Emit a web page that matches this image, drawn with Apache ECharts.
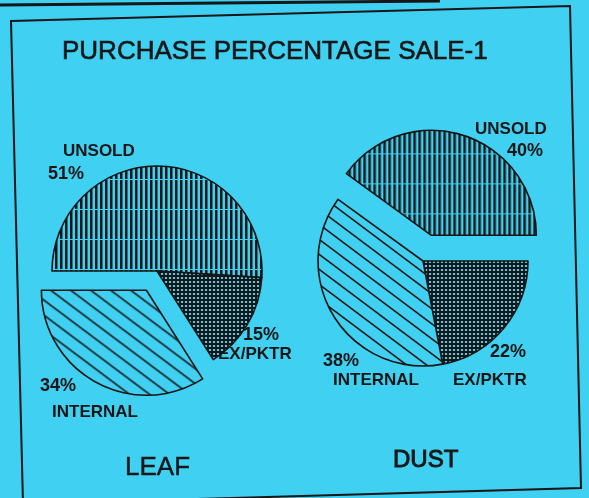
<!DOCTYPE html>
<html>
<head>
<meta charset="UTF-8">
<title>Purchase percentage sale-1</title>
<style>
  html, body { margin: 0; padding: 0; background: #3fd0f2; }
  #main { width: 589px; height: 498px; }
</style>
</head>
<body>
<div id="main"></div>
<script src="https://cdn.jsdelivr.net/npm/echarts@6/dist/echarts.min.js"></script>
<script>
// data
var titleText = 'PURCHASE PERCENTAGE SALE-1';
var groups = ['LEAF', 'DUST'];
var categories = ['UNSOLD', 'EX/PKTR', 'INTERNAL'];
var leafValues = [51, 15, 34];
var dustValues = [40, 22, 38];
// which slice is pulled out of each pie
var leafExploded = 'INTERNAL';
var dustExploded = 'UNSOLD';

var BG = '#3fd0f2';
var INK = '#161616';
var FONT = '"Liberation Sans", Arial, sans-serif';

// hatch fills, drawn on small canvases
function tile(w, h, draw) {
    var c = document.createElement('canvas');
    c.width = w; c.height = h;
    var ctx = c.getContext('2d');
    ctx.fillStyle = BG;
    ctx.fillRect(0, 0, w, h);
    ctx.fillStyle = INK;
    ctx.strokeStyle = INK;
    draw(ctx, w, h);
    return { image: c, repeat: 'repeat' };
}
var vertical = tile(5, 30, function (ctx, w, h) {
    ctx.fillRect(0, 0, 2.5, h);
    ctx.fillStyle = BG;
    ctx.fillRect(0, h - 1, w, 1);
});
var cross = tile(4, 4, function (ctx, w, h) {
    ctx.fillRect(0, 0, w, h);
    ctx.fillStyle = BG;
    ctx.fillRect(1, 1, 2, 2);
});
var diagonal = tile(20, 15, function (ctx, w, h) {
    ctx.lineWidth = 1.5;
    [-15, 0, 15].forEach(function (c) {
        ctx.beginPath();
        ctx.moveTo(-8, c - 6);
        ctx.lineTo(28, c + 21);
        ctx.stroke();
    });
});
var fills = [vertical, cross, diagonal];

function pieData(values, exploded) {
    return categories.map(function (name, i) {
        return {
            name: name,
            value: values[i],
            selected: name === exploded,
            itemStyle: { color: fills[i] },
            select: { itemStyle: { color: fills[i] } }
        };
    });
}

function pie(values, exploded, center, startAngle, offset) {
    return {
        type: 'pie',
        center: center,
        radius: 105,
        startAngle: startAngle,
        clockwise: true,
        selectedMode: 'multiple',
        selectedOffset: offset,
        silent: true,
        animation: false,
        label: { show: false },
        labelLine: { show: false },
        emphasis: { disabled: true },
        itemStyle: { borderColor: INK, borderWidth: 1.6 },
        select: { itemStyle: { borderColor: INK, borderWidth: 1.6 } },
        data: pieData(values, exploded)
    };
}

function text(str, x, y, size, bold, extra) {
    var st = {
        text: str,
        font: (bold ? 'bold ' : '') + size + 'px ' + FONT,
        fill: INK,
        verticalAlign: 'middle'
    };
    if (extra) { st.stroke = INK; st.lineWidth = extra; }
    return { type: 'text', x: x, y: y, silent: true, style: st };
}

// label places: [name x, name y, value x, value y]
var leafPlaces = [[63, 151, 48, 174], [218, 354, 243, 335], [52, 412, 40, 386]];
var dustPlaces = [[475, 129, 507, 151], [453, 380, 490, 352], [333, 380, 323, 361]];

function labels(values, places) {
    var out = [];
    categories.forEach(function (name, i) {
        var p = places[i];
        out.push(text(name, p[0], p[1], 17, true));
        out.push(text(values[i] + '%', p[2], p[3], 18, true));
    });
    return out;
}

var graphics = [
    // frame of the scanned sheet
    { type: 'polygon', silent: true, shape: { points: [[11, 21], [570, 6], [581, 488], [23, 504]] },
      style: { fill: 'none', stroke: INK, lineWidth: 2 } },
    { type: 'polyline', silent: true, shape: { points: [[0, 5], [440, 1]] },
      style: { stroke: INK, lineWidth: 3 } },
    text(titleText, 62, 52, 26, false, 0.6),
    text(groups[0], 125, 468, 26, false, 0.4),
    text(groups[1], 393, 460, 24, false, 0.9)
].concat(labels(leafValues, leafPlaces), labels(dustValues, dustPlaces));

var myChart = echarts.init(document.getElementById('main'));
myChart.setOption({
    backgroundColor: BG,
    animation: false,
    series: [
        pie(leafValues, leafExploded, [157, 271], 180, 22),
        pie(dustValues, dustExploded, [423, 261], 144, 27)
    ],
    graphic: graphics
});
</script>
</body>
</html>
